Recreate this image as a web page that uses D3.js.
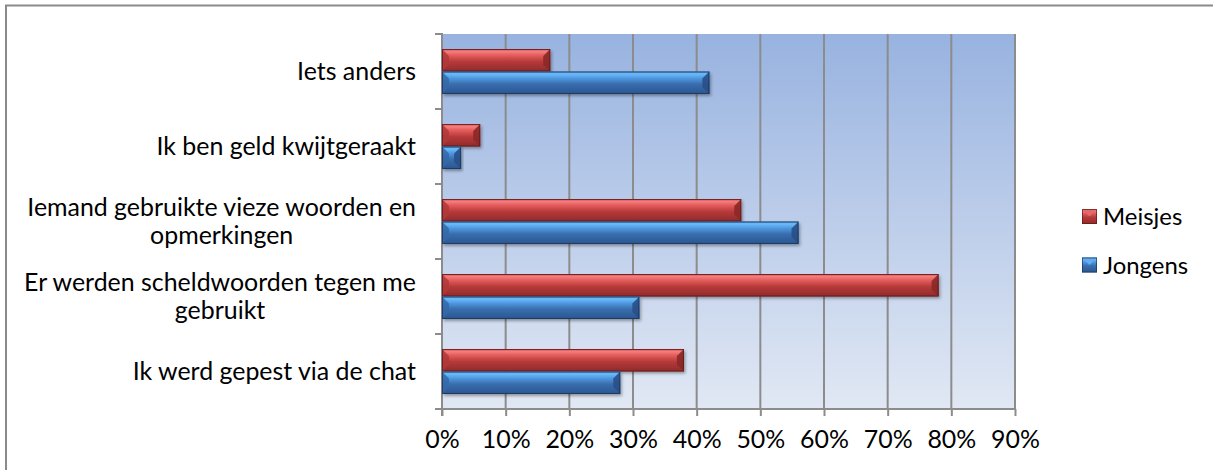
<!DOCTYPE html>
<html><head><meta charset="utf-8">
<script src="https://cdn.jsdelivr.net/npm/d3@7"></script>
<style>html,body{margin:0;padding:0;background:#fff;}svg{display:block;font-family:Lato,"Open Sans",sans-serif;}</style>
</head><body>
<svg id="c" width="1213" height="470"></svg>
<script>
const categories = [
  ["Iets anders"],
  ["Ik ben geld kwijtgeraakt"],
  ["Iemand gebruikte vieze woorden en", "opmerkingen"],
  ["Er werden scheldwoorden tegen me", "gebruikt"],
  ["Ik werd gepest via de chat"]
];
const seriesNames = ["Meisjes", "Jongens"];
const meisjes = [0.17, 0.06, 0.47, 0.78, 0.38];
const jongens = [0.42, 0.03, 0.56, 0.31, 0.28];
const xTicks = [0, 0.1, 0.2, 0.3, 0.4, 0.5, 0.6, 0.7, 0.8, 0.9];

const svg = d3.select("#c");
const defs = svg.append("defs");

// outer frame
svg.append("rect").attr("x", 6).attr("y", 5.5).attr("width", 1400).attr("height", 700)
  .attr("fill", "none").attr("stroke", "#8a8a8a").attr("stroke-width", 2);

// font size calibration
const probe = svg.append("text").attr("font-size", 100).text("Er werden scheldwoorden tegen me");
const fs = 100 * 392 / probe.node().getComputedTextLength();
probe.remove();

const x = d3.scaleLinear().domain([0, 0.9]).range([442, 1015]);
const y = d3.scaleBand().domain(d3.range(categories.length)).range([34, 409]).paddingInner(0.4).paddingOuter(0.2);
const ys = d3.scaleBand().domain(seriesNames).range([0, y.bandwidth()]);

// plot bg gradient
const bg = defs.append("linearGradient").attr("id", "bg").attr("x1", 0).attr("y1", 0).attr("x2", 0).attr("y2", 1);
bg.append("stop").attr("offset", 0).attr("stop-color", "#98b3e0");
bg.append("stop").attr("offset", 1).attr("stop-color", "#e1e8f4");
svg.append("rect").attr("x", x(0)).attr("y", 34).attr("width", x(0.9) - x(0)).attr("height", 375).attr("fill", "url(#bg)");

// gridlines
svg.append("g").selectAll("line").data(xTicks.slice(1)).join("line")
  .attr("x1", d => x(d)).attr("x2", d => x(d)).attr("y1", 34).attr("y2", 409)
  .attr("stroke", "#8c8c8c").attr("stroke-width", 2);

// axes
const xAxis = svg.append("g").attr("transform", "translate(0,409)")
  .call(d3.axisBottom(x).tickValues(xTicks).tickFormat(d3.format(".0%")).tickSize(7).tickPadding(17));
xAxis.select(".domain").remove();
xAxis.selectAll("line").attr("stroke", "#8c8c8c").attr("stroke-width", 2);
xAxis.selectAll("text").attr("font-size", fs).attr("fill", "#000").attr("font-family", "Lato").attr("dy", "0.62em");
svg.append("line").attr("x1", 435).attr("x2", x(0.9)).attr("y1", 409).attr("y2", 409).attr("stroke", "#8c8c8c").attr("stroke-width", 2);
svg.append("line").attr("x1", x(0)).attr("x2", x(0)).attr("y1", 33).attr("y2", 416).attr("stroke", "#8c8c8c").attr("stroke-width", 2);
const bounds = d3.range(categories.length + 1).map(i => 34 + i * y.step());
svg.append("g").selectAll("line").data(bounds).join("line")
  .attr("x1", 435).attr("x2", x(0)).attr("y1", d => d).attr("y2", d => d)
  .attr("stroke", "#8c8c8c").attr("stroke-width", 2);

// gradients for bars
const pal = {
  Meisjes: {stops: [[0, "#c84444"], [0.1, "#f57e7e"], [0.3, "#e25a5a"], [0.55, "#b83a3a"], [1, "#8e2a2a"]], left: "#b03838", right: "#8a2828", stroke: "#5e1a1a"},
  Jongens: {stops: [[0, "#3f86d6"], [0.1, "#6cbcfa"], [0.3, "#4f98e0"], [0.55, "#3a6faf"], [1, "#2a5590"]], left: "#3568a8", right: "#294f86", stroke: "#1d3556"}
};
seriesNames.forEach((s, i) => {
  const g = defs.append("linearGradient").attr("id", "g" + i).attr("x1", 0).attr("y1", 0).attr("x2", 0).attr("y2", 1);
  pal[s].stops.forEach(st => g.append("stop").attr("offset", st[0]).attr("stop-color", st[1]));
});
const f = defs.append("filter").attr("id", "sh").attr("x", "-5%").attr("y", "-20%").attr("width", "115%").attr("height", "160%");
f.append("feDropShadow").attr("dx", 1.5).attr("dy", 2).attr("stdDeviation", 1.5).attr("flood-color", "#000").attr("flood-opacity", 0.35);

function drawBar(g, w, h, s, gi) {
  const b = Math.min(7, w / 2);
  g.append("rect").attr("width", w).attr("height", h).attr("fill", `url(#g${gi})`).attr("filter", "url(#sh)");
  g.append("path").attr("d", `M0,0L${b},${b}L${b},${h - b}L0,${h}Z`).attr("fill", pal[s].left).attr("opacity", 0.85);
  g.append("path").attr("d", `M${w},0L${w - b},${b}L${w - b},${h - b}L${w},${h}Z`).attr("fill", pal[s].right).attr("opacity", 0.9);
  g.append("rect").attr("x", 0.5).attr("y", 0.5).attr("width", Math.max(0, w - 1)).attr("height", h - 1)
    .attr("fill", "none").attr("stroke", pal[s].stroke).attr("stroke-width", 1).attr("opacity", 0.8);
}

const data = [meisjes, jongens];
seriesNames.forEach((s, si) => {
  data[si].forEach((v, ci) => {
    const g = svg.append("g").attr("transform", `translate(${x(0)},${y(ci) + ys(s)})`);
    drawBar(g, x(v) - x(0), ys.bandwidth(), s, si);
  });
});

// category labels
const lh = 28;
categories.forEach((lines, ci) => {
  const cy = y(ci) + y.bandwidth() / 2;
  const gl = svg.append("g");
  const texts = lines.map((t, li) => gl.append("text").attr("font-size", fs).attr("fill", "#000")
    .attr("y", cy + (li - (lines.length - 1) / 2) * lh + 0.36 * fs).text(t));
  const widths = texts.map(t => t.node().getComputedTextLength());
  const maxW = d3.max(widths);
  const cx = 416 - maxW / 2;
  texts.forEach(t => t.attr("x", cx).attr("text-anchor", "middle"));
});

// legend
seriesNames.forEach((s, i) => {
  const ly = 216.5 + i * 48.5;
  const g = svg.append("g").attr("transform", `translate(1082,${ly - 7.5})`);
  g.append("rect").attr("width", 15).attr("height", 15).attr("fill", `url(#g${i})`);
  g.append("path").attr("d", "M0,0L15,0L7.5,7.5Z").attr("fill", i === 0 ? "#e46a6a" : "#62aef0");
  g.append("rect").attr("x", 0.5).attr("y", 0.5).attr("width", 14).attr("height", 14).attr("fill", "none").attr("stroke", pal[s].stroke).attr("opacity", 0.7);
  svg.append("text").attr("x", 1103).attr("y", ly + 0.36 * fs).attr("font-size", fs * 0.96).attr("fill", "#000").text(s);
});
</script>
</body></html>
